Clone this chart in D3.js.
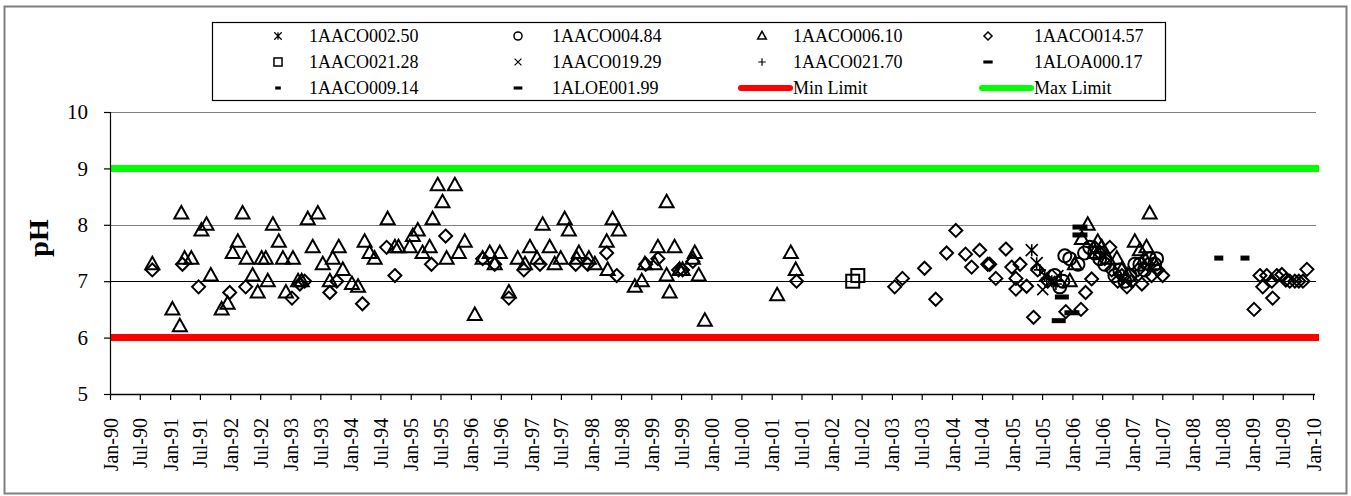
<!DOCTYPE html>
<html><head><meta charset="utf-8">
<script src="https://cdn.jsdelivr.net/npm/d3@7"></script>
<style>
body{margin:0;background:#fff}
svg{display:block}
text{font-family:"Liberation Serif","Times New Roman",serif;fill:#000}
</style>
</head><body>
<svg id="chart" width="1351" height="496"></svg>
<script>
// ---------------- DATA ----------------
const yTicks = [5, 6, 7, 8, 9, 10];
const gridValues = [6, 7, 8, 9, 10];
const minLimit = 6;
const maxLimit = 9;
const xStart = "1990-01-01";
const xEnd = "2010-01-01";
const tickFormatStr = "%b-%y"; // Jan-90, Jul-90, ...

const s1AACO002_50 = [["2005-04-29",7.55],["2005-05-29",7.32],["2005-07-17",7.1],["2005-08-29",7.0]];
const s1AACO004_84 = [["2005-09-16",7.1],["2005-10-16",6.9],["2005-11-04",7.0],["2005-11-16",7.45],["2005-12-16",7.4],
  ["2006-02-04",7.3],["2006-03-16",7.5],["2006-04-16",7.6],["2006-05-16",7.5],["2006-06-16",7.4],["2006-07-16",7.3],
  ["2006-09-16",7.1],["2006-10-16",7.2],["2006-11-16",7.0],["2006-12-16",7.1],["2007-01-15",7.3],["2007-02-15",7.3],
  ["2007-03-15",7.2],["2007-04-15",7.4],["2007-05-15",7.3],["2007-05-27",7.4]];
const s1AACO006_10 = [["1990-09-15",7.3],["1991-01-15",6.5],["1991-03-01",6.2],["1991-03-10",8.2],["1991-03-30",7.4],
  ["1991-05-10",7.4],["1991-07-10",7.9],["1991-08-10",8.0],["1991-09-05",7.1],["1991-11-10",6.5],["1991-12-16",6.6],
  ["1992-01-16",7.5],["1992-02-16",7.7],["1992-03-16",8.2],["1992-04-10",7.4],["1992-05-16",7.1],["1992-06-16",6.8],
  ["1992-07-10",7.4],["1992-08-04",7.4],["1992-08-16",7.0],["1992-09-16",8.0],["1992-10-22",7.7],["1992-11-16",7.4],
  ["1992-12-04",6.8],["1993-01-16",7.4],["1993-02-16",7.0],["1993-03-10",7.0],["1993-04-16",8.1],["1993-05-16",7.6],
  ["1993-06-16",8.2],["1993-07-16",7.3],["1993-08-28",7.0],["1993-09-15",7.4],["1993-10-21",7.6],["1993-11-15",7.2],
  ["1994-01-09",6.95],["1994-02-15",6.9],["1994-03-27",7.7],["1994-04-26",7.5],["1994-05-27",7.4],["1994-08-14",8.1],
  ["1994-09-27",7.6],["1994-10-19",7.6],["1994-12-26",7.6],["1995-01-14",7.8],["1995-02-13",7.9],["1995-03-14",7.5],
  ["1995-04-26",7.6],["1995-05-14",8.1],["1995-06-14",8.7],["1995-07-13",8.4],["1995-08-07",7.4],["1995-09-26",8.7],
  ["1995-10-20",7.5],["1995-11-25",7.7],["1996-01-25",6.4],["1996-03-13",7.4],["1996-04-25",7.5],["1996-05-25",7.3],
  ["1996-06-25",7.5],["1996-08-19",6.8],["1996-10-12",7.4],["1996-11-25",7.3],["1996-12-25",7.6],["1997-02-06",7.4],
  ["1997-03-12",8.0],["1997-04-24",7.6],["1997-05-24",7.3],["1997-06-30",7.4],["1997-07-24",8.1],["1997-08-18",7.9],
  ["1997-10-05",7.4],["1997-10-18",7.5],["1997-12-18",7.4],["1998-01-23",7.3],["1998-04-05",7.7],["1998-04-11",7.2],
  ["1998-05-11",8.1],["1998-06-17",7.9],["1998-09-23",6.9],["1998-11-04",7.0],["1998-11-23",7.3],["1999-01-23",7.3],
  ["1999-02-10",7.6],["1999-04-04",8.4],["1999-04-04",7.1],["1999-04-22",6.8],["1999-05-22",7.6],["1999-06-22",7.2],
  ["1999-07-10",7.2],["1999-09-10",7.4],["1999-09-22",7.5],["1999-10-16",7.1],["1999-11-22",6.3],["2001-02-03",6.75],
  ["2001-04-27",7.5],["2001-05-27",7.2],["2005-12-16",7.0],["2006-01-16",7.3],["2006-02-28",7.75],["2006-04-04",8.0],
  ["2006-05-16",7.5],["2006-06-04",7.7],["2006-06-28",7.6],["2006-08-04",7.4],["2006-09-28",7.4],["2006-10-28",7.2],
  ["2006-12-04",7.1],["2007-01-15",7.7],["2007-02-15",7.55],["2007-03-15",7.4],["2007-03-27",7.6],["2007-04-15",8.2],
  ["2007-05-15",7.3]];
const s1AACO014_57 = [["1990-09-15",7.2],["1991-03-17",7.3],["1991-06-23",6.9],["1991-12-29",6.8],["1992-04-04",6.9],
  ["1993-01-10",6.7],["1993-02-27",6.95],["1993-03-28",7.0],["1993-08-28",6.8],["1993-10-09",7.0],["1994-03-14",6.6],
  ["1994-08-08",7.6],["1994-09-27",7.1],["1995-05-07",7.3],["1995-08-01",7.8],["1996-03-13",7.4],["1996-05-25",7.3],
  ["1996-08-19",6.7],["1996-11-18",7.2],["1997-02-24",7.3],["1997-09-29",7.3],["1997-12-11",7.3],["1998-04-05",7.5],
  ["1998-06-05",7.1],["1998-11-28",7.3],["1999-02-10",7.4],["1999-06-16",7.2],["1999-07-10",7.2],["1999-09-10",7.35],
  ["2001-06-01",7.0],["2003-01-18",6.9],["2003-03-06",7.05],["2003-07-18",7.23],["2003-09-24",6.68],["2003-11-29",7.5],
  ["2004-01-24",7.9],["2004-03-23",7.48],["2004-04-29",7.25],["2004-06-17",7.55],["2004-08-05",7.3],["2004-08-17",7.3],
  ["2004-09-23",7.05],["2004-11-23",7.57],["2004-12-29",7.25],["2005-01-23",7.05],["2005-01-23",6.86],["2005-02-17",7.3],
  ["2005-03-29",6.91],["2005-05-10",6.36],["2005-06-04",7.2],["2005-08-04",7.0],["2005-11-22",6.46],["2006-02-22",6.5],
  ["2006-03-22",6.8],["2006-04-28",7.04],["2006-05-16",7.6],["2006-06-16",7.5],["2006-07-16",7.4],["2006-08-16",7.6],
  ["2006-08-28",7.2],["2006-10-03",7.0],["2006-10-28",7.1],["2006-11-28",6.9],["2006-12-28",7.0],["2007-02-03",7.2],
  ["2007-02-27",6.95],["2007-04-03",7.3],["2007-04-27",7.1],["2007-06-03",7.2],["2007-07-03",7.1],["2009-01-08",6.5],
  ["2009-02-13",7.1],["2009-03-02",6.9],["2009-03-26",7.1],["2009-04-26",7.0],["2009-05-01",6.7],["2009-05-26",7.1],
  ["2009-06-26",7.12],["2009-07-20",7.02],["2009-08-13",7.0],["2009-09-13",7.0],["2009-10-07",7.0],["2009-11-01",7.0],
  ["2009-11-25",7.21]];
const s1AACO021_28 = [["2002-05-08",7.0],["2002-06-08",7.1]];
const s1AACO019_29 = [["2005-07-05",6.85],["2005-08-17",7.0],["2005-10-05",7.1]];
const s1AACO021_70 = [["2005-06-17",7.2],["2005-07-29",7.05],["2005-09-23",6.95]];
const s1ALOA000_17 = [["2005-12-29",6.44],["2006-02-16",7.96],["2006-02-16",7.82]];
const s1AACO009_14 = [["2008-06-08",7.41],["2008-11-14",7.41]];
const s1ALOE001_99 = [["2005-10-10",6.3],["2005-10-29",6.72]];

const seriesNames = ["1AACO002.50","1AACO004.84","1AACO006.10","1AACO014.57","1AACO021.28","1AACO019.29",
  "1AACO021.70","1ALOA000.17","1AACO009.14","1ALOE001.99"];
const seriesData = [s1AACO002_50,s1AACO004_84,s1AACO006_10,s1AACO014_57,s1AACO021_28,s1AACO019_29,
  s1AACO021_70,s1ALOA000_17,s1AACO009_14,s1ALOE001_99];
const seriesShapes = ["asterisk","circle","triangle","diamond","square","x","plus","dashWide","dashSmall","dashMid"];

// ---------------- DRAW ----------------
const svg = d3.select("#chart");
const parse = d3.timeParse("%Y-%m-%d");

const x = d3.scaleTime().domain([parse(xStart), parse(xEnd)]).range([110, 1313]);
const y = d3.scaleLinear().domain([5, 10]).range([394, 112]);

// outer border
svg.append("rect").attr("x", 4.5).attr("y", 6.5).attr("width", 1342).attr("height", 487)
  .attr("fill", "none").attr("stroke", "#808080").attr("stroke-width", 2);

// gridlines
gridValues.forEach(v => {
  svg.append("line").attr("x1", x.range()[0]).attr("x2", x.range()[1] + 3)
    .attr("y1", Math.round(y(v)) + 0.5).attr("y2", Math.round(y(v)) + 0.5)
    .attr("stroke", v === 7 ? "#000" : "#808080").attr("stroke-width", 1.2);
});

// limit lines
const xLimitEnd = x.range()[1] + 6;
svg.append("line").attr("x1", x.range()[0]).attr("x2", xLimitEnd)
  .attr("y1", y(maxLimit)).attr("y2", y(maxLimit)).attr("stroke", "#00ff00").attr("stroke-width", 7);
svg.append("line").attr("x1", x.range()[0]).attr("x2", xLimitEnd)
  .attr("y1", y(minLimit)).attr("y2", y(minLimit)).attr("stroke", "#ff0000").attr("stroke-width", 7);

// y axis
const yAxis = svg.append("g").attr("transform", "translate(110,0)")
  .call(d3.axisLeft(y).tickValues(yTicks).tickSize(6).tickPadding(16).tickFormat(d3.format("d")));
yAxis.select(".domain").attr("stroke", "#000").attr("stroke-width", 1.2).attr("d", `M0.5,${y(10)}V${y(5)}`);
yAxis.selectAll(".tick line").attr("stroke", "#000").attr("stroke-width", 1.2);
yAxis.selectAll(".tick text").attr("font-size", 21).attr("font-family", "Liberation Serif").attr("fill", "#000");

// x axis
const xTickDates = d3.timeMonth.every(6).range(parse(xStart), d3.timeDay.offset(parse(xEnd), 1));
const xAxis = svg.append("g").attr("transform", `translate(0,${y(5)})`)
  .call(d3.axisBottom(x).tickValues(xTickDates).tickSize(6).tickFormat(d3.timeFormat(tickFormatStr)));
xAxis.select(".domain").attr("stroke", "#000").attr("stroke-width", 1.5).attr("d", `M${x.range()[0]},0.5H${x.range()[1] + 2}`);
xAxis.selectAll(".tick line").attr("stroke", "#000").attr("stroke-width", 1.2);
xAxis.selectAll(".tick text")
  .attr("font-size", 20).attr("font-family", "Liberation Serif").attr("fill", "#000")
  .attr("text-anchor", "end").attr("dy", null).attr("y", null)
  .attr("dominant-baseline", "central")
  .attr("transform", "translate(0,24) rotate(-90)");

// y title
svg.append("text").attr("transform", "translate(38,238) rotate(-90)")
  .attr("text-anchor", "middle").attr("dominant-baseline", "central")
  .attr("font-size", 28).attr("font-weight", "bold").text("pH");

// marker drawing
function drawMarker(g, shape, cx, cy, k) {
  const sw = 2 * Math.max(k, 0.75);
  if (shape === "triangle") {
    g.append("path").attr("d", `M${cx},${cy - 7.5 * k}L${cx + 7 * k},${cy + 5 * k}L${cx - 7 * k},${cy + 5 * k}Z`)
      .attr("fill", "none").attr("stroke", "#000").attr("stroke-width", sw).attr("stroke-linejoin", "miter");
  } else if (shape === "diamond") {
    g.append("path").attr("d", `M${cx},${cy - 6.5 * k}L${cx + 6.5 * k},${cy}L${cx},${cy + 6.5 * k}L${cx - 6.5 * k},${cy}Z`)
      .attr("fill", "none").attr("stroke", "#000").attr("stroke-width", sw);
  } else if (shape === "circle") {
    g.append("circle").attr("cx", cx).attr("cy", cy).attr("r", 6.5 * k)
      .attr("fill", "none").attr("stroke", "#000").attr("stroke-width", sw);
  } else if (shape === "square") {
    g.append("rect").attr("x", cx - 6.5 * k).attr("y", cy - 6.5 * k).attr("width", 13 * k).attr("height", 13 * k)
      .attr("fill", "none").attr("stroke", "#000").attr("stroke-width", sw);
  } else if (shape === "x") {
    const r = 5.5 * k;
    g.append("path").attr("d", `M${cx - r},${cy - r}L${cx + r},${cy + r}M${cx - r},${cy + r}L${cx + r},${cy - r}`)
      .attr("stroke", "#000").attr("stroke-width", sw * 0.8);
  } else if (shape === "plus") {
    const r = 6 * k;
    g.append("path").attr("d", `M${cx - r},${cy}L${cx + r},${cy}M${cx},${cy - r}L${cx},${cy + r}`)
      .attr("stroke", "#000").attr("stroke-width", sw * 0.8);
  } else if (shape === "asterisk") {
    const r = 6 * k;
    g.append("path").attr("d", `M${cx - r},${cy - r}L${cx + r},${cy + r}M${cx - r},${cy + r}L${cx + r},${cy - r}M${cx},${cy - r}L${cx},${cy + r}`)
      .attr("stroke", "#000").attr("stroke-width", sw * 0.8);
  } else if (shape === "dashWide") {
    g.append("rect").attr("x", cx - 7.5 * k).attr("y", cy - 2.5 * k).attr("width", 15 * k).attr("height", 5 * k).attr("fill", "#000");
  } else if (shape === "dashMid") {
    g.append("rect").attr("x", cx - 7 * k).attr("y", cy - 2.5 * k).attr("width", 14 * k).attr("height", 5 * k).attr("fill", "#000");
  } else if (shape === "dashSmall") {
    g.append("rect").attr("x", cx - 4.5 * k).attr("y", cy - 2.5 * k).attr("width", 9 * k).attr("height", 5 * k).attr("fill", "#000");
  }
}

// points (draw order so triangles/diamonds underlay cluster series)
const plotG = svg.append("g");
const drawOrder = [3, 2, 4, 1, 0, 5, 6, 7, 8, 9];
drawOrder.forEach(i => {
  const g = plotG.append("g").attr("class", "series-" + i);
  seriesData[i].forEach(([d, v]) => drawMarker(g, seriesShapes[i], x(parse(d)), y(v), 1));
});

// legend
svg.append("rect").attr("x", 212.5).attr("y", 22.5).attr("width", 953).attr("height", 78)
  .attr("fill", "#fff").attr("stroke", "#000").attr("stroke-width", 1.2);
const legMarkerX = [278, 518, 762, 988];
const legTextX = [309, 552, 793, 1034];
const legRowY = [36, 62, 88];
const legG = svg.append("g");
seriesNames.forEach((name, i) => {
  const col = i % 4, row = Math.floor(i / 4);
  drawMarker(legG, seriesShapes[i], legMarkerX[col], legRowY[row], 0.62);
  legG.append("text").attr("x", legTextX[col]).attr("y", legRowY[row]).attr("dominant-baseline", "central")
    .attr("font-size", 18).text(name);
});
const limitNames = ["Min Limit", "Max Limit"];
const limitColors = ["#ff0000", "#00ff00"];
limitNames.forEach((name, j) => {
  const col = 2 + j;
  legG.append("line").attr("x1", legTextX[col] - 52).attr("x2", legTextX[col] - 3)
    .attr("y1", legRowY[2]).attr("y2", legRowY[2]).attr("stroke", limitColors[j]).attr("stroke-width", 6)
    .attr("stroke-linecap", "round");
  legG.append("text").attr("x", legTextX[col]).attr("y", legRowY[2]).attr("dominant-baseline", "central")
    .attr("font-size", 18).text(name);
});
</script>
</body></html>
